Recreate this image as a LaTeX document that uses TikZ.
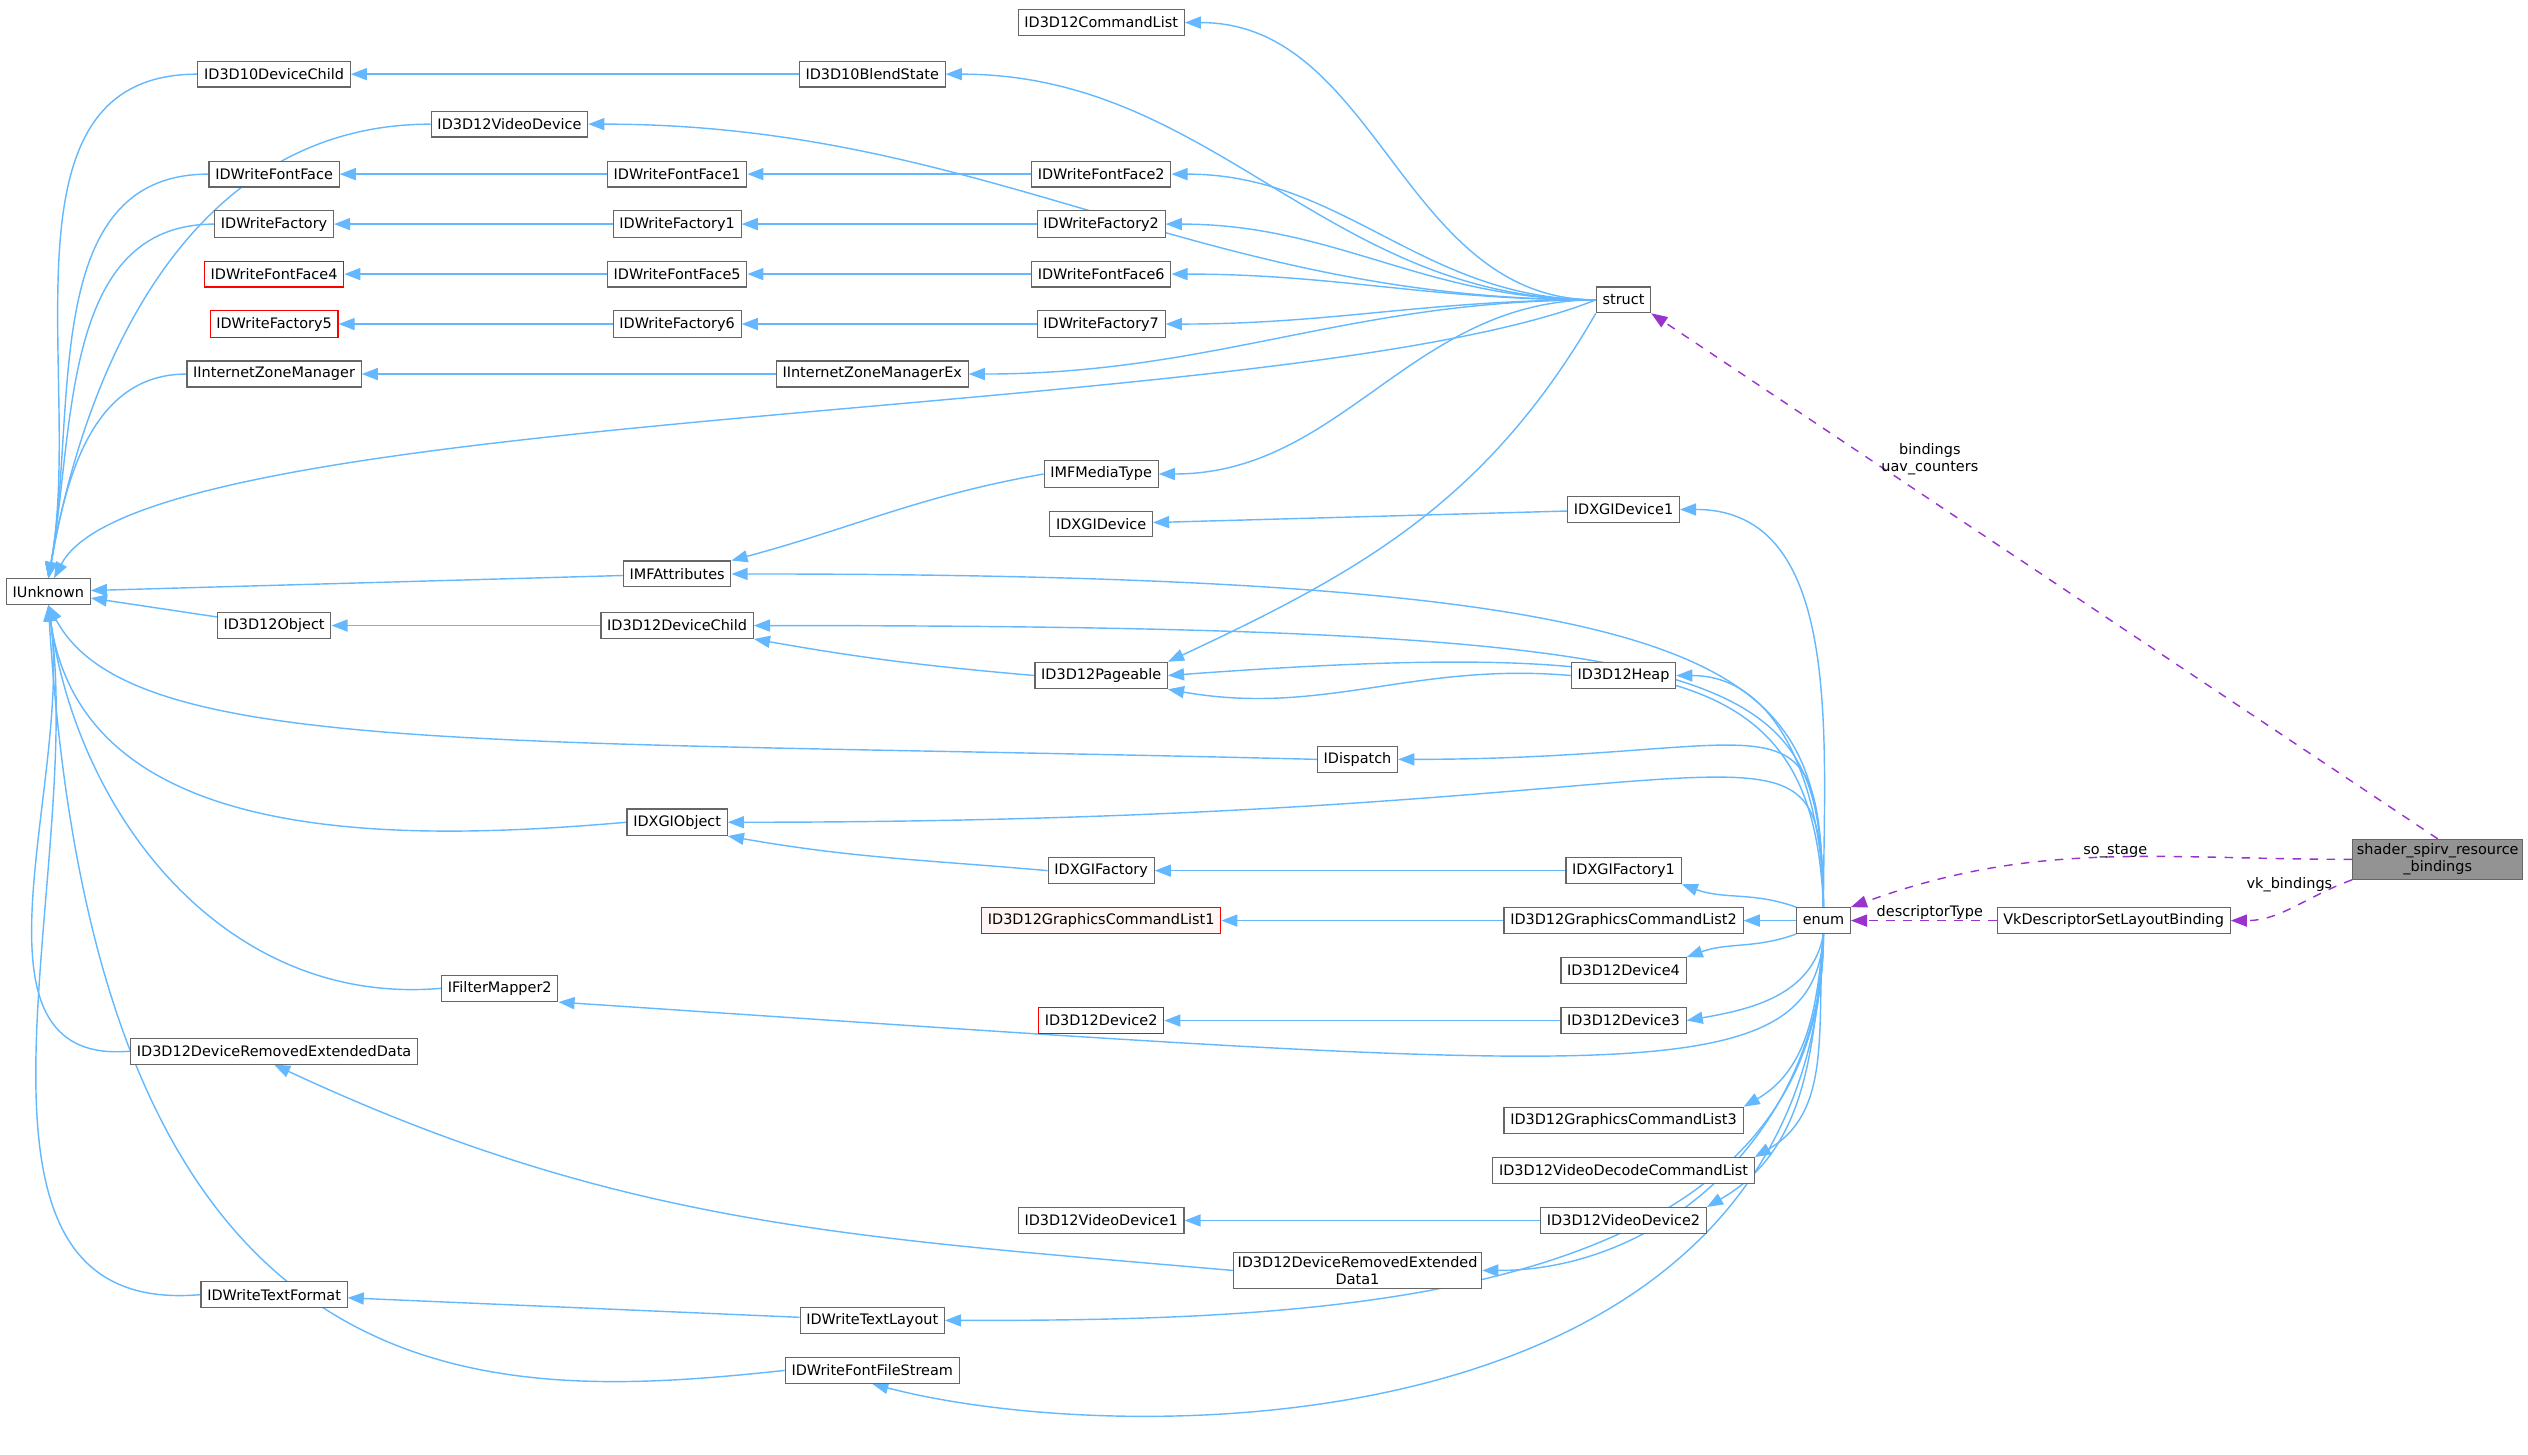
\documentclass[tikz,border=0pt]{standalone}
\usepackage{fontspec}
\setmainfont{DejaVu Sans}
\usetikzlibrary{arrows.meta}
\pgfdeclarelayer{edges}
\pgfsetlayers{edges,main}
\definecolor{edgeblue}{HTML}{63B8FF}
\definecolor{usepurple}{HTML}{9A32CD}
\definecolor{boxgray}{HTML}{666666}
\tikzset{
  cls/.style={draw=boxgray, fill=white, inner sep=2.2pt, minimum height=0.32cm, font=\fontsize{5.1}{6}\selectfont},
  miss/.style={cls, draw=red},
  inh/.style={edgeblue, line width=0.5pt, -{Triangle[length=0.2cm,width=0.15cm]}},
  usage/.style={usepurple, dashed, line width=0.5pt, -{Triangle[length=0.2cm,width=0.15cm]}},
  lbl/.style={font=\fontsize{5.1}{6}\selectfont, align=center, text=black}
}
\begin{document}
\begin{tikzpicture}[x=0.02cm, y=-0.02cm]
  \useasboundingbox (0,0) rectangle (1568,902);
  % classes
  \node[cls] (cmdlist) at (683,14) {ID3D12CommandList};
  \node[cls] (d10child) at (170,46) {ID3D10DeviceChild};
  \node[cls] (blend) at (541,46) {ID3D10BlendState};
  \node[cls] (viddev) at (316,77) {ID3D12VideoDevice};
  \node[cls] (ff) at (170,108) {IDWriteFontFace};
  \node[cls] (ff1) at (420,108) {IDWriteFontFace1};
  \node[cls] (ff2) at (683,108) {IDWriteFontFace2};
  \node[cls] (fac) at (170,139) {IDWriteFactory};
  \node[cls] (fac1) at (420,139) {IDWriteFactory1};
  \node[cls] (fac2) at (683,139) {IDWriteFactory2};
  \node[miss] (ff4) at (170,170) {IDWriteFontFace4};
  \node[cls] (ff5) at (420,170) {IDWriteFontFace5};
  \node[cls] (ff6) at (683,170) {IDWriteFontFace6};
  \node[miss] (fac5) at (170,201) {IDWriteFactory5};
  \node[cls] (fac6) at (420,201) {IDWriteFactory6};
  \node[cls] (fac7) at (683,201) {IDWriteFactory7};
  \node[cls] (izm) at (170,232) {IInternetZoneManager};
  \node[cls] (izmex) at (541,232) {IInternetZoneManagerEx};
  \node[cls] (struct) at (1007,186) {struct};
  \node[cls] (mediatype) at (683,294) {IMFMediaType};
  \node[cls] (dxgidev) at (683,325) {IDXGIDevice};
  \node[cls] (dxgidev1) at (1007,316) {IDXGIDevice1};
  \node[cls] (unknown) at (30,367) {IUnknown};
  \node[cls] (mfattr) at (420,356) {IMFAttributes};
  \node[cls] (d12obj) at (170,388) {ID3D12Object};
  \node[cls] (d12child) at (420,388) {ID3D12DeviceChild};
  \node[cls] (pageable) at (683,419) {ID3D12Pageable};
  \node[cls] (heap) at (1007,419) {ID3D12Heap};
  \node[cls] (dispatch) at (842,471) {IDispatch};
  \node[cls] (dxgiobj) at (420,510) {IDXGIObject};
  \node[cls] (dxgifac) at (683,540) {IDXGIFactory};
  \node[cls] (dxgifac1) at (1007,540) {IDXGIFactory1};
  \node[miss, fill=red!4] (gcl1) at (683,571) {ID3D12GraphicsCommandList1};
  \node[cls] (gcl2) at (1007,571) {ID3D12GraphicsCommandList2};
  \node[cls] (enum) at (1131,571) {enum};
  \node[cls] (vkbind) at (1311,571) {VkDescriptorSetLayoutBinding};
  \node[cls, fill=gray!85, align=center, inner sep=1.5pt] (shader) at (1512,533) {shader\_spirv\_resource\\\_bindings};
  \node[cls] (dev4) at (1007,602) {ID3D12Device4};
  \node[miss] (dev2) at (683,633) {ID3D12Device2};
  \node[cls] (dev3) at (1007,633) {ID3D12Device3};
  \node[cls] (filter) at (310,613) {IFilterMapper2};
  \node[cls] (dred) at (170,652) {ID3D12DeviceRemovedExtendedData};
  \node[cls] (gcl3) at (1007,695) {ID3D12GraphicsCommandList3};
  \node[cls] (viddec) at (1007,726) {ID3D12VideoDecodeCommandList};
  \node[cls] (viddev1) at (683,757) {ID3D12VideoDevice1};
  \node[cls] (viddev2) at (1007,757) {ID3D12VideoDevice2};
  \node[cls, align=center, inner sep=1.5pt] (dred1) at (842,788) {ID3D12DeviceRemovedExtended\\Data1};
  \node[cls] (textfmt) at (170,803) {IDWriteTextFormat};
  \node[cls] (textlay) at (541,819) {IDWriteTextLayout};
  \node[cls] (fstream) at (541,850) {IDWriteFontFileStream};

  \begin{pgfonlayer}{edges}
  % inheritance chains
  \foreach \a/\b in {blend/d10child, ff2/ff1, ff1/ff, fac2/fac1, fac1/fac, ff6/ff5, ff5/ff4,
      fac7/fac6, fac6/fac5, izmex/izm, dxgidev1/dxgidev, d12child/d12obj, dxgifac1/dxgifac,
      gcl2/gcl1, dev3/dev2, viddev2/viddev1, textlay/textfmt, mfattr/unknown, d12obj/unknown}
    \draw[inh] (\a) -- (\b);
  \draw[inh] (mediatype.west) to[out=190,in=15] (mfattr.north east);
  \draw[inh] (pageable.west) to[out=175,in=-10] (d12child.south east);
  \draw[inh] (heap.west) to[out=175,in=-10] (pageable.south east);
  \draw[inh] (dxgifac.west) to[out=175,in=-10] (dxgiobj.south east);
  \draw[inh] (dred1.west) to[out=175,in=-25] (dred.south);

  % towards IUnknown
  \foreach \a in {d10child, viddev, ff, fac, izm}
    \draw[inh] (\a.west) to[out=180,in=80] (unknown.north);
  \draw[inh] (struct.west) .. controls (800,262) and (90,250) .. ([xshift=2pt]unknown.north);
  \draw[inh] (dispatch.west) .. controls (300,458) and (80,470) .. (unknown.south);
  \foreach \a in {dxgiobj, filter, dred, textfmt}
    \draw[inh] (\a.west) to[out=185,in=-82] (unknown.south);
  \draw[inh] (fstream.west) .. controls (300,870) and (60,880) .. (unknown.south);

  % towards struct
  \foreach \a in {cmdlist, blend, viddev, ff2, fac2, ff6, fac7, izmex, mediatype}
    \draw[inh] (struct.west) to[out=180,in=0] (\a.east);
  \draw[inh] (struct.south west) to[out=240,in=25] (pageable.north east);

  % towards enum
  \foreach \a in {dxgidev1, heap}
    \draw[inh] (enum.north) to[out=90,in=0] (\a.east);
  \foreach \a in {mfattr, d12child, dispatch, dxgiobj}
    \draw[inh] (enum.north) .. controls (1128,420) and ({1110,0} |- \a.east) .. (\a.east);
  \draw[inh] (enum.north) .. controls (1125,420) and (1050,395) .. (pageable.east);
  \draw[inh] (enum.north west) to[out=160,in=-20] (dxgifac1.south east);
  \draw[inh] (enum.west) -- (gcl2.east);
  \draw[inh] (enum.south west) to[out=200,in=20] (dev4.north east);
  \draw[inh] (enum.south) to[out=-100,in=10] (dev3.east);
  \draw[inh] (enum.south) .. controls (1125,680) and (1000,665) .. (filter.south east);
  \foreach \a in {gcl3, viddec, viddev2}
    \draw[inh] (enum.south) to[out=-95,in=30] (\a.north east);
  \foreach \a in {dred1, textlay}
    \draw[inh] (enum.south) to[out=-90,in=0] (\a.east);
  \draw[inh] (enum.south) .. controls (1125,900) and (700,900) .. (fstream.south);

  % member usage
  \draw[usage] (shader.north) -- (struct.south east);
  \draw[usage] (shader.west) to[out=180,in=20] (enum.north east);
  \draw[usage] (shader.south west) to[out=200,in=0] (vkbind.east);
  \draw[usage] (vkbind) -- (enum);
  \end{pgfonlayer}
  \node[lbl] at (1197,285) {bindings\\uav\_counters};
  \node[lbl] at (1312,528) {so\_stage};
  \node[lbl] at (1420,549) {vk\_bindings};
  \node[lbl] at (1197,566) {descriptorType};
\end{tikzpicture}
\end{document}
